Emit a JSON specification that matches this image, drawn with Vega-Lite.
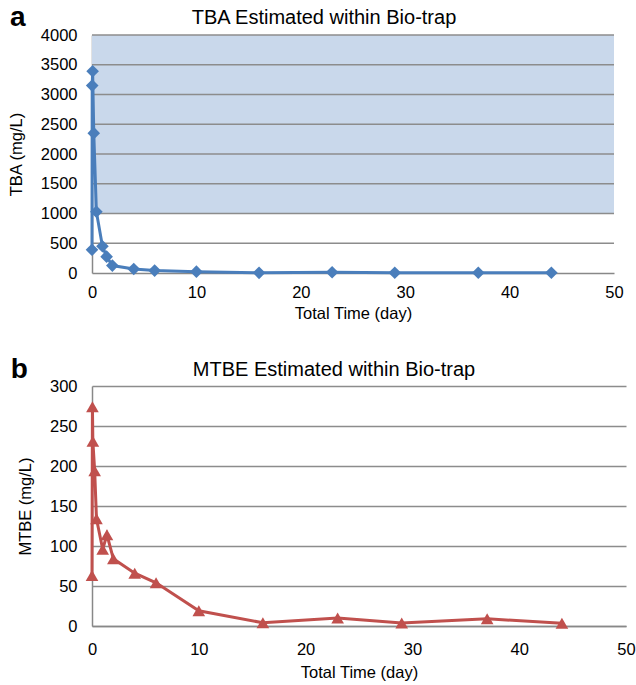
{
  "$schema": "https://vega.github.io/schema/vega-lite/v6.json",
  "background": "white",
  "padding": {"left": 8, "top": 4, "right": 0, "bottom": 3},
  "spacing": 33,
  "config": {
    "font": "Liberation Sans",
    "view": {"stroke": null},
    "axis": {"labelFont": "Liberation Sans", "titleFont": "Liberation Sans", "labelFontSize": 16.5, "titleFontSize": 16.5, "labelColor": "#000", "titleColor": "#000", "titleFontWeight": "normal", "ticks": false, "domainColor": "#888888", "domainWidth": 1.5, "gridColor": "#8c8c8c", "gridWidth": 1.3, "labelOverlap": false, "labelFlush": false, "format": "d"},
    "title": {"font": "Liberation Sans", "fontSize": 20, "fontWeight": "normal", "color": "#000", "offset": 6}
  },
  "datasets": {
    "tba": [
      {"t": 0, "v": 390}, {"t": 0.02, "v": 3150}, {"t": 0.06, "v": 3390}, {"t": 0.17, "v": 2350},
      {"t": 0.42, "v": 1030}, {"t": 1, "v": 450}, {"t": 1.4, "v": 275}, {"t": 1.95, "v": 125},
      {"t": 4, "v": 67}, {"t": 6, "v": 40}, {"t": 10, "v": 22}, {"t": 16, "v": 3},
      {"t": 23, "v": 12}, {"t": 29, "v": 4}, {"t": 37, "v": 4}, {"t": 44, "v": 4}
    ],
    "mtbe": [
      {"t": 0, "v": 63}, {"t": 0.04, "v": 274}, {"t": 0.08, "v": 231}, {"t": 0.25, "v": 194},
      {"t": 0.42, "v": 134}, {"t": 1, "v": 96}, {"t": 1.4, "v": 114}, {"t": 2, "v": 84},
      {"t": 4, "v": 66}, {"t": 6, "v": 54}, {"t": 10, "v": 19}, {"t": 16, "v": 4},
      {"t": 23, "v": 10}, {"t": 29, "v": 3.7}, {"t": 37, "v": 9}, {"t": 44, "v": 3.4}
    ],
    "gridA": [{"g": 500}, {"g": 1000}, {"g": 1500}, {"g": 2000}, {"g": 2500}, {"g": 3000}, {"g": 3500}, {"g": 4000}],
    "one": [{"k": 1}]
  },
  "vconcat": [
    {
      "width": 522,
      "height": 238,
      "title": {"text": "TBA Estimated within Bio-trap", "dx": -29, "dy": 30},
      "layer": [
        {
          "data": {"name": "one"},
          "mark": {"type": "rect", "color": "#c9d8eb"},
          "encoding": {
            "x": {"datum": 0, "type": "quantitative", "title": "Total Time (day)", "scale": {"domain": [0, 50]}, "axis": {"values": [0, 10, 20, 30, 40, 50], "grid": false, "labelPadding": 11, "titlePadding": 5}},
            "x2": {"datum": 50},
            "y": {"datum": 1000, "type": "quantitative", "title": "TBA (mg/L)", "scale": {"domain": [0, 4000]}, "axis": {"values": [0, 500, 1000, 1500, 2000, 2500, 3000, 3500, 4000], "grid": false, "labelPadding": 15, "titlePadding": 16}},
            "y2": {"datum": 4000}
          }
        },
        {
          "data": {"name": "gridA"},
          "mark": {"type": "rule", "color": "#8c8c8c", "strokeWidth": 1.3},
          "encoding": {
            "y": {"field": "g", "type": "quantitative", "title": "TBA (mg/L)", "scale": {"domain": [0, 4000]}, "axis": {"values": [0, 500, 1000, 1500, 2000, 2500, 3000, 3500, 4000], "grid": false, "labelPadding": 15, "titlePadding": 16}}
          }
        },
        {
          "data": {"name": "tba"},
          "mark": {"type": "line", "color": "#4a7ebb", "strokeWidth": 3, "point": {"shape": "diamond", "size": 160, "filled": true, "color": "#4a7ebb", "opacity": 1}},
          "encoding": {
            "x": {"field": "t", "type": "quantitative", "title": "Total Time (day)", "scale": {"domain": [0, 50]}, "axis": {"values": [0, 10, 20, 30, 40, 50], "grid": false, "labelPadding": 11, "titlePadding": 5}},
            "y": {"field": "v", "type": "quantitative", "title": "TBA (mg/L)", "scale": {"domain": [0, 4000]}, "axis": {"values": [0, 500, 1000, 1500, 2000, 2500, 3000, 3500, 4000], "grid": false, "labelPadding": 15, "titlePadding": 16}},
            "order": {"field": "t"}
          }
        },
        {
          "data": {"name": "one"},
          "mark": {"type": "text", "text": "a", "fontSize": 28, "fontWeight": "bold", "font": "Liberation Sans", "align": "center", "baseline": "alphabetic", "color": "#000"},
          "encoding": {
            "x": {"datum": -7.1, "type": "quantitative", "title": "Total Time (day)", "scale": {"domain": [0, 50]}, "axis": {"values": [0, 10, 20, 30, 40, 50], "grid": false, "labelPadding": 11, "titlePadding": 5}},
            "y": {"datum": 4150, "type": "quantitative", "title": "TBA (mg/L)", "scale": {"domain": [0, 4000]}, "axis": {"values": [0, 500, 1000, 1500, 2000, 2500, 3000, 3500, 4000], "grid": false, "labelPadding": 15, "titlePadding": 16}}
          }
        }
      ]
    },
    {
      "width": 534,
      "height": 240,
      "title": {"text": "MTBE Estimated within Bio-trap", "dx": -25, "dy": 30},
      "layer": [
        {
          "data": {"name": "mtbe"},
          "mark": {"type": "line", "color": "#c0504d", "strokeWidth": 3, "point": {"shape": "triangle-up", "size": 160, "filled": true, "color": "#c0504d", "opacity": 1}},
          "encoding": {
            "x": {"field": "t", "type": "quantitative", "title": "Total Time (day)", "scale": {"domain": [0, 50]}, "axis": {"values": [0, 10, 20, 30, 40, 50], "grid": false, "labelPadding": 15, "titlePadding": 7}},
            "y": {"field": "v", "type": "quantitative", "title": "MTBE (mg/L)", "scale": {"domain": [0, 300]}, "axis": {"values": [0, 50, 100, 150, 200, 250, 300], "grid": true, "labelPadding": 15, "titlePadding": 16}},
            "order": {"field": "t"}
          }
        },
        {
          "data": {"name": "one"},
          "mark": {"type": "text", "text": "b", "fontSize": 28, "fontWeight": "bold", "font": "Liberation Sans", "align": "center", "baseline": "alphabetic", "color": "#000"},
          "encoding": {
            "x": {"datum": -6.8, "type": "quantitative", "title": "Total Time (day)", "scale": {"domain": [0, 50]}, "axis": {"values": [0, 10, 20, 30, 40, 50], "grid": false, "labelPadding": 15, "titlePadding": 7}},
            "y": {"datum": 310, "type": "quantitative", "title": "MTBE (mg/L)", "scale": {"domain": [0, 300]}, "axis": {"values": [0, 50, 100, 150, 200, 250, 300], "grid": true, "labelPadding": 15, "titlePadding": 16}}
          }
        }
      ]
    }
  ]
}
